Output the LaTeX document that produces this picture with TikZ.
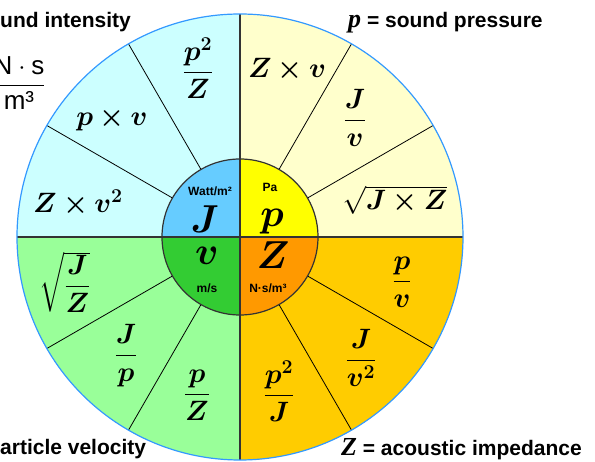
\documentclass[tikz,border=0pt]{standalone}
\usepackage{fix-cm}
\usepackage{amsmath}
\usepackage{bm}
\usepackage{fontspec}
\newfontfamily\labelfont{Liberation Sans}
\newfontfamily\letterfont{Liberation Serif}

\definecolor{skyfill}{HTML}{CCFFFF}
\definecolor{creamfill}{HTML}{FFFFCC}
\definecolor{mintfill}{HTML}{99FF99}
\definecolor{goldfill}{HTML}{FFCC00}
\definecolor{skycore}{HTML}{66CCFF}
\definecolor{creamcore}{HTML}{FFFF00}
\definecolor{mintcore}{HTML}{33CC33}
\definecolor{goldcore}{HTML}{FF9900}
\definecolor{rimblue}{HTML}{3399FF}
\definecolor{axisgrey}{HTML}{333333}

\newcommand{\qsym}[1]{{\letterfont\bfseries\itshape\fontsize{26}{28}\selectfont #1}}

\tikzset{
  qlabel/.style={font=\labelfont\bfseries\fontsize{21}{24}\selectfont, inner sep=0pt},
  formula/.style={font=\fontsize{28}{32}\selectfont, inner sep=0pt},
  core/.style={font=\fontsize{39}{44}\selectfont, inner sep=0pt},
  unit/.style={font=\labelfont\bfseries\fontsize{12}{14}\selectfont, inner sep=0pt}
}

\begin{document}
\begin{tikzpicture}[x=1pt,y=1pt]
			\clip (-240,-225) rectangle (355,237);
			% four quarters, outer ring
			\fill[skyfill] (0,0) -- (90:223) arc (90:180:223) -- cycle;
			\fill[creamfill] (0,0) -- (0:223) arc (0:90:223) -- cycle;
			\fill[mintfill] (0,0) -- (180:223) arc (180:270:223) -- cycle;
			\fill[goldfill] (0,0) -- (270:223) arc (270:360:223) -- cycle;
			% inner disc
			\fill[skycore] (0,0) -- (90:78) arc (90:180:78) -- cycle;
			\fill[creamcore] (0,0) -- (0:78) arc (0:90:78) -- cycle;
			\fill[mintcore] (0,0) -- (180:78) arc (180:270:78) -- cycle;
			\fill[goldcore] (0,0) -- (270:78) arc (270:360:78) -- cycle;
			\foreach \a in {30,60,120,150,210,240,300,330}
				\draw[line width=0.8pt] (\a:78) -- (\a:223);
			\draw[line width=1.6pt, axisgrey] (-223,0) -- (223,0);
			\draw[line width=1.6pt, axisgrey] (0,-223) -- (0,223);
			\draw[line width=1.2pt, axisgrey] (0,0) circle (78);
			\draw[line width=1.2pt, rimblue] (0,0) circle (223);
			% centre
			\node[core] (cJ) at (-35,18) {$\bm{J}$};
			\node[core] (cp) at (32,15) {$\bm{p}$};
			\node[core] (cv) at (-33,-19) {$\bm{v}$};
			\node[core] (cZ) at (33,-18) {$\bm{Z}$};
			\node[unit] (uJ) at (-30,46) {Watt/m²};
			\node[unit] (up) at (30,50) {Pa};
			\node[unit] (uv) at (-33,-51) {m/s};
			\node[unit] (uZ) at (28,-51) {N·s/m³};
			% outer ring
			\node[formula] (f1) at (47,167) {$\bm{Z\times v}$};
			\node[formula] (f2) at (115,119) {$\dfrac{\bm{J}}{\bm{v}}$};
			\node[formula] (f3) at (155,37) {$\sqrt{\bm{J\times Z}}$};
			\node[formula] (f4) at (-42,169) {$\dfrac{\bm{p^2}}{\bm{Z}}$};
			\node[formula] (f5) at (-128,118) {$\bm{p\times v}$};
			\node[formula] (f6) at (-162,34) {$\bm{Z\times v^2}$};
			\node[formula] (f7) at (-175,-45) {$\sqrt{\dfrac{\bm{J}}{\bm{Z}}}$};
			\node[formula] (f8) at (-114,-119) {$\dfrac{\bm{J}}{\bm{p}}$};
			\node[formula] (f9) at (-43,-158) {$\dfrac{\bm{p}}{\bm{Z}}$};
			\node[formula] (f10) at (162,-45) {$\dfrac{\bm{p}}{\bm{v}}$};
			\node[formula] (f11) at (121,-121) {$\dfrac{\bm{J}}{\bm{v^2}}$};
			\node[formula] (f12) at (39,-154) {$\dfrac{\bm{p^2}}{\bm{J}}$};
			% corner texts
			\node[qlabel, anchor=base west] (tl) at (-240,209) {und intensity};
			\node[font=\fontsize{26}{30}\selectfont, inner sep=0pt] (tlu) at (-221,154)
				{$\dfrac{\text{\labelfont N}\cdot\text{\labelfont s}}{\text{\labelfont m³}}$};
			\node[qlabel, anchor=base west] (tr) at (108,209) {\qsym{p} = sound pressure};
			\node[qlabel, anchor=base west] (bl) at (-240,-218) {article velocity};
			\node[qlabel, anchor=base west] (br) at (101,-219) {\qsym{Z} = acoustic impedance};
		\end{tikzpicture}
\end{document}
